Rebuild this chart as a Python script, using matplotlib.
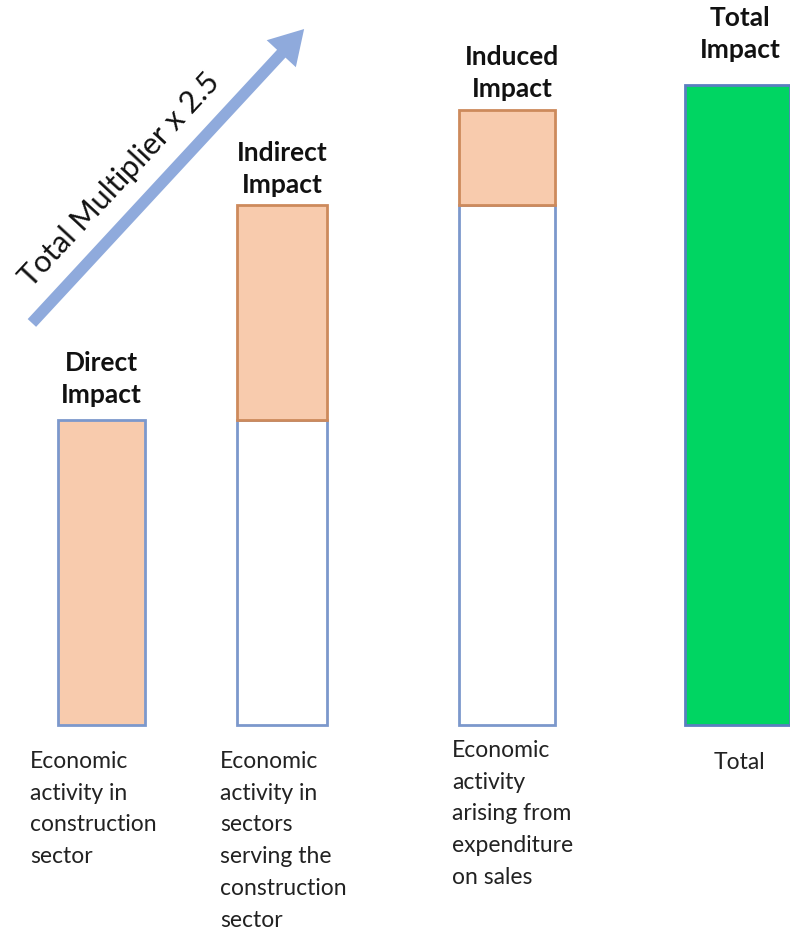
import matplotlib
matplotlib.use("Agg")
import matplotlib.pyplot as plt
from matplotlib.patches import FancyArrowPatch

# Data (units: direct impact = 1.0)
categories = ["Direct", "Indirect", "Induced", "Total"]
base_values = [0.0, 1.0, 1.705, 0.0]        # white (carried-over) part
impact_values = [1.0, 0.705, 0.311, 2.098]  # highlighted part
titles = ["Direct\nImpact", "Indirect\nImpact", "Induced\nImpact", "Total\nImpact"]
descriptions = [
    "Economic\nactivity in\nconstruction\nsector",
    "Economic\nactivity in\nsectors\nserving the\nconstruction\nsector",
    "Economic\nactivity\narising from\nexpenditure\non sales",
    "Total",
]
arrow_label = "Total Multiplier x 2.5"

W, H = 790, 934
fig = plt.figure(figsize=(W / 100, H / 100), dpi=100)
ax = fig.add_axes([0, 0, 1, 1])
ax.set_xlim(0, W)
px = 305.0  # pixels per unit
ax.set_ylim(-(H - 725) / px, 725 / px)
ax.axis("off")

def ypix(p):  # pixel-from-top -> data
    return (725 - p) / px

centers = [101.5, 282, 507, 737.5]
widths = [87, 90, 96, 105]
orange = "#F8CBAD"
orange_edge = "#CD8A5C"
blue_edge = "#7C98CC"
green = "#00D562"

for i in range(4):
    if base_values[i] > 0:
        ax.bar(centers[i], base_values[i], width=widths[i], bottom=0,
               color="white", edgecolor=blue_edge, linewidth=2.0, zorder=2)
    if i == 0:
        fc, ec, b = orange, blue_edge, 0
    elif i == 3:
        fc, ec, b = green, "#5A7FC0", 0
    else:
        fc, ec, b = orange, orange_edge, base_values[i]
    ax.bar(centers[i], impact_values[i], width=widths[i], bottom=b,
           color=fc, edgecolor=ec, linewidth=2.0, zorder=3)

title_x = [101, 282, 512, 740]
title_top = [351, 141, 45, 6]
for i in range(4):
    ax.text(title_x[i], ypix(title_top[i]), titles[i], ha="center", va="top",
            fontsize=19, fontweight="bold", family="Lato", linespacing=1.42,
            color="#111111")

desc_x = [30, 220, 452, 739]
desc_top = [751, 751, 740, 752]
for i in range(4):
    ax.text(desc_x[i], ypix(desc_top[i]), descriptions[i],
            ha="center" if i == 3 else "left", va="top",
            fontsize=16.5, family="Lato", linespacing=1.63, color="#222222")

arrow = FancyArrowPatch((30, ypix(325)), (306, ypix(27)),
                        arrowstyle="simple,head_length=2.2,head_width=2.6,tail_width=0.75",
                        mutation_scale=11, color="#8FAADC", lw=0, zorder=4)
ax.add_patch(arrow)
ax.text(120, ypix(180), arrow_label, rotation=47.2, rotation_mode="anchor",
        ha="center", va="center", fontsize=22, family="Lato", color="#111111")

fig.savefig("out.png", dpi=100)
